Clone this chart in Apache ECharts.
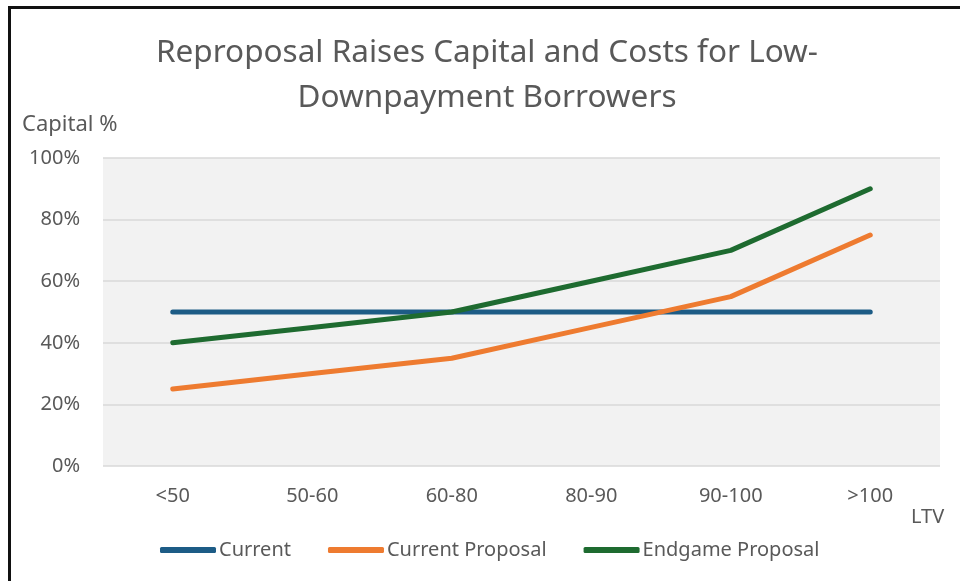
<!DOCTYPE html>
<html lang="en">
<head>
    <meta charset="UTF-8">
    <title>Reproposal Raises Capital and Costs</title>
    <style>
        body { margin: 0; background: #fff; }
        #frame {
            position: absolute;
            left: 8px;
            top: 6px;
            width: 960px;
            height: 590px;
            border-top: 3px solid #111;
            border-left: 3px solid #111;
        }
        #chart {
            position: absolute;
            left: 0;
            top: 0;
            width: 960px;
            height: 581px;
        }
    </style>
    <script src="https://cdn.jsdelivr.net/npm/echarts@6/dist/echarts.min.js"></script>
</head>
<body>
<div id="frame"></div>
<div id="chart"></div>
<script>
    // data
    var ltvBuckets = ['<50', '50-60', '60-80', '80-90', '90-100', '>100'];
    var currentVals = [50, 50, 50, 50, 50, 50];
    var currentProposalVals = [25, 30, 35, 45, 55, 75];
    var endgameVals = [40, 45, 50, 60, 70, 90];
    var seriesNames = ['Current', 'Current Proposal', 'Endgame Proposal'];
    var seriesColors = ['#1d5c86', '#ee7b30', '#1e6b30'];

    var font = "'Noto Sans', sans-serif";
    var textGray = '#595959';

    function lineSeries(name, data, color) {
        return {
            name: name,
            type: 'line',
            data: data,
            symbol: 'none',
            lineStyle: { width: 5, color: color, cap: 'round' },
            itemStyle: { color: color }
        };
    }

    var chart = echarts.init(document.getElementById('chart'));
    chart.setOption({
        animation: false,
        title: {
            text: 'Reproposal Raises Capital and Costs for Low-\nDownpayment Borrowers',
            left: 482,
            textAlign: 'center',
            top: 26,
            textStyle: { fontFamily: font, fontSize: 31.5, fontWeight: 'normal', color: textGray, lineHeight: 45 }
        },
        grid: { left: 103, right: 20, top: 158, bottom: 115, show: true, backgroundColor: '#f2f2f2', borderWidth: 0 },
        legend: {
            data: seriesNames,
            left: 155,
            top: 535,
            icon: 'roundRect',
            itemWidth: 56,
            itemHeight: 6,
            itemGap: 37,
            textStyle: { fontFamily: font, fontSize: 20, color: textGray, padding: [0, 0, 0, -2] }
        },
        xAxis: {
            type: 'category',
            data: ltvBuckets,
            axisLine: { show: false },
            axisTick: { show: false },
            axisLabel: { fontFamily: font, fontSize: 20, color: textGray, margin: 20 }
        },
        yAxis: {
            type: 'value',
            min: 0,
            max: 100,
            interval: 20,
            axisLine: { show: false },
            axisTick: { show: false },
            axisLabel: { fontFamily: font, fontSize: 20, color: textGray, margin: 23, formatter: '{value}%' },
            splitLine: { lineStyle: { color: '#d9d9d9', width: 1.5 } }
        },
        graphic: [
            { type: 'text', left: 22, top: 114, style: { text: 'Capital %', font: '22px ' + font, fill: textGray } },
            { type: 'text', left: 911, top: 507, style: { text: 'LTV', font: '20px ' + font, fill: textGray } }
        ],
        series: [
            lineSeries(seriesNames[0], currentVals, seriesColors[0]),
            lineSeries(seriesNames[1], currentProposalVals, seriesColors[1]),
            lineSeries(seriesNames[2], endgameVals, seriesColors[2])
        ]
    });
</script>
</body>
</html>
